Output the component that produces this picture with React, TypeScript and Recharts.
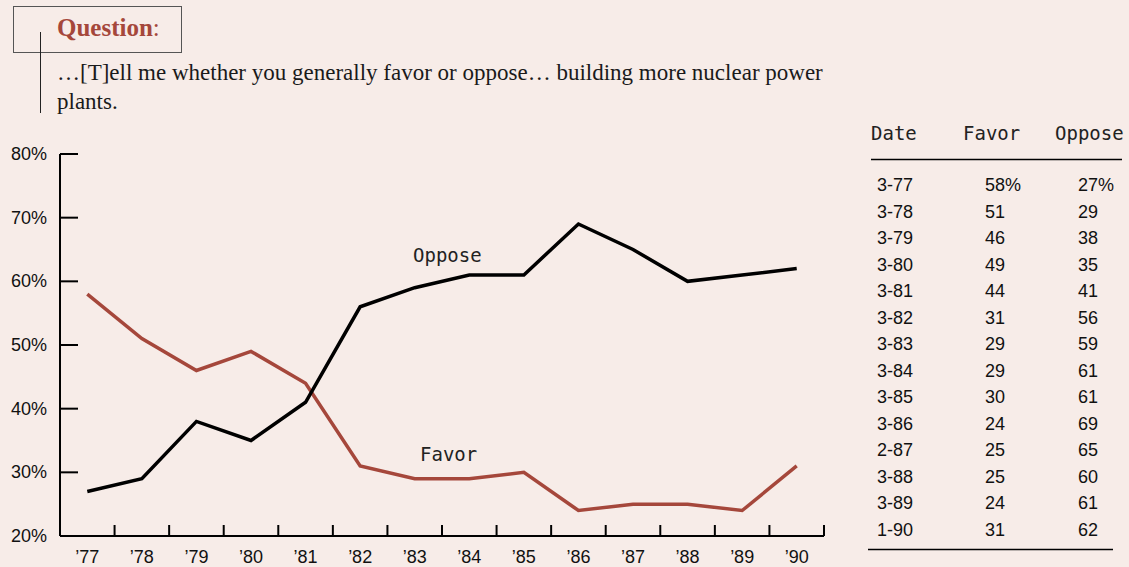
import React from "react";
import { LineChart, Line, XAxis, YAxis } from "recharts";

// Survey: favor / oppose building more nuclear power plants
const years = ["’77", "’78", "’79", "’80", "’81", "’82", "’83", "’84", "’85", "’86", "’87", "’88", "’89", "’90"];
const dates = ["3-77", "3-78", "3-79", "3-80", "3-81", "3-82", "3-83", "3-84", "3-85", "3-86", "2-87", "3-88", "3-89", "1-90"];
const favor = [58, 51, 46, 49, 44, 31, 29, 29, 30, 24, 25, 25, 24, 31];
const oppose = [27, 29, 38, 35, 41, 56, 59, 61, 61, 69, 65, 60, 61, 62];
const yTicks = [20, 30, 40, 50, 60, 70, 80];

const BG = "#f7ece8";
const RED = "#a5473b";
const SANS = "'Liberation Sans', Arial, sans-serif";
const MONO = "'DejaVu Sans Mono', monospace";
const SERIF = "'Liberation Serif', 'Times New Roman', serif";

const data = years.map((y, i) => ({ i, year: y, favor: favor[i], oppose: oppose[i] }));

// labels sit on whole numbers, tick marks on the half steps between years
const xTicks: number[] = [];
years.forEach((_, i) => {
  xTicks.push(i);
  xTicks.push(i + 0.5);
});

const XTick = ({ x, y, payload }: any) => {
  const v = payload.value;
  if (Number.isInteger(v)) {
    return (
      <text x={x} y={y + 27} textAnchor="middle" fontSize={18} fontFamily={SANS} fill="#111">
        {years[v]}
      </text>
    );
  }
  return <line x1={x} x2={x} y1={y} y2={y - 11} stroke="#000" strokeWidth={2} />;
};

const YTick = ({ x, y, payload }: any) => (
  <g>
    <line x1={x} x2={x + 18} y1={y} y2={y} stroke="#000" strokeWidth={2} />
    <text x={x - 13} y={y + 6} textAnchor="end" fontSize={18} fontFamily={SANS} fill="#111">
      {payload.value}%
    </text>
  </g>
);

export default function App() {
  return (
    <div
      style={{
        position: "absolute",
        left: 0,
        top: 0,
        width: 1129,
        height: 567,
        background: BG,
        overflow: "hidden",
      }}
    >
      {/* question box */}
      <div
        style={{
          position: "absolute",
          left: 13,
          top: 6,
          width: 169,
          height: 47,
          border: "1px solid #555",
          boxSizing: "border-box",
        }}
      />
      <div style={{ position: "absolute", left: 40, top: 32, width: 1, height: 81, background: "#222" }} />
      <div
        style={{
          position: "absolute",
          left: 57,
          top: 13,
          fontFamily: SERIF,
          fontSize: 25,
          color: RED,
          lineHeight: "30px",
        }}
      >
        <b>Question</b>:
      </div>
      <div
        style={{
          position: "absolute",
          left: 57,
          top: 58,
          fontFamily: SERIF,
          fontSize: 23,
          color: "#1a1a1a",
          lineHeight: "29px",
          whiteSpace: "nowrap",
        }}
      >
        …[T]ell me whether you generally favor or oppose… building more nuclear power
        <br />
        plants.
      </div>

      {/* chart */}
      <div style={{ position: "absolute", left: 0, top: 0 }}>
        <LineChart width={840} height={567} data={data} margin={{ top: 154, right: 16, bottom: 0, left: 0 }}>
          <XAxis
            dataKey="i"
            type="number"
            domain={[-0.5, 13.5]}
            ticks={xTicks}
            interval={0}
            height={31}
            tickSize={0}
            tickMargin={0}
            tickLine={false}
            tick={<XTick />}
            axisLine={{ stroke: "#000", strokeWidth: 2 }}
          />
          <YAxis
            type="number"
            domain={[20, 80]}
            ticks={yTicks}
            interval={0}
            width={60}
            tickSize={0}
            tickMargin={0}
            tickLine={false}
            tick={<YTick />}
            axisLine={{ stroke: "#000", strokeWidth: 2 }}
          />
          <Line
            dataKey="favor"
            stroke={RED}
            strokeWidth={3.5}
            dot={false}
            isAnimationActive={false}
            strokeLinejoin="miter"
          />
          <Line
            dataKey="oppose"
            stroke="#000"
            strokeWidth={3.5}
            dot={false}
            isAnimationActive={false}
            strokeLinejoin="miter"
          />
        </LineChart>
      </div>
      <div style={{ position: "absolute", left: 413, top: 244, fontFamily: MONO, fontSize: 19, color: "#222" }}>
        Oppose
      </div>
      <div style={{ position: "absolute", left: 420, top: 443, fontFamily: MONO, fontSize: 19, color: "#222" }}>
        Favor
      </div>

      {/* data table */}
      <svg width={1129} height={567} style={{ position: "absolute", left: 0, top: 0, pointerEvents: "none" }}>
        <g fontFamily={MONO} fontSize={19} fill="#222">
          <text x={871} y={140}>Date</text>
          <text x={963} y={140}>Favor</text>
          <text x={1055} y={140}>Oppose</text>
        </g>
        <line x1={871} x2={1122} y1={159.5} y2={159.5} stroke="#000" strokeWidth={1.5} />
        <g fontFamily={SANS} fontSize={18} fill="#111">
          {dates.map((d, i) => (
            <g key={d}>
              <text x={877} y={191 + i * 26.54}>{d}</text>
              <text x={985} y={191 + i * 26.54}>{favor[i]}{i === 0 ? "%" : ""}</text>
              <text x={1078} y={191 + i * 26.54}>{oppose[i]}{i === 0 ? "%" : ""}</text>
            </g>
          ))}
        </g>
        <line x1={868} x2={1113} y1={549.5} y2={549.5} stroke="#000" strokeWidth={1.5} />
      </svg>
    </div>
  );
}
